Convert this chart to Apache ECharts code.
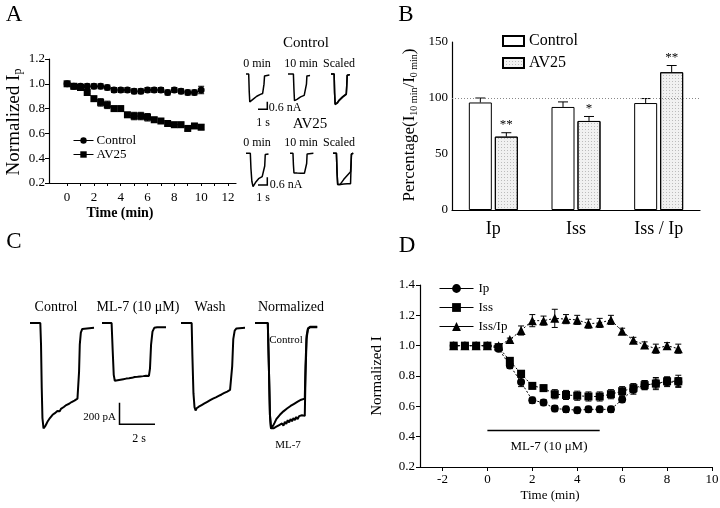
<!DOCTYPE html>
<html>
<head>
<meta charset="utf-8">
<script src="https://cdn.jsdelivr.net/npm/echarts@6/dist/echarts.min.js"></script>
</head>
<body style="margin:0">
<div id="main" style="width:720px;height:508px"></div>
<script type="text/javascript">
// ---- panel A: time course ----
var timeA = [0, 0.5, 1, 1.5, 2, 2.5, 3, 3.5, 4, 4.5, 5, 5.5, 6, 6.5, 7, 7.5, 8, 8.5, 9, 9.5, 10];
var ctrlA = [1.00, 0.98, 0.98, 0.98, 0.98, 0.98, 0.97, 0.95, 0.95, 0.95, 0.94, 0.94, 0.95, 0.95, 0.95, 0.93, 0.95, 0.94, 0.93, 0.93, 0.95];
var ctrlErrA = [0.01, 0.02, 0.02, 0.02, 0.02, 0.02, 0.02, 0.02, 0.02, 0.02, 0.02, 0.02, 0.02, 0.02, 0.02, 0.02, 0.02, 0.02, 0.02, 0.02, 0.03];
var av25A = [1.00, 0.98, 0.97, 0.93, 0.88, 0.85, 0.83, 0.80, 0.80, 0.75, 0.74, 0.74, 0.73, 0.71, 0.70, 0.68, 0.67, 0.67, 0.64, 0.66, 0.65];
var av25ErrA = [0.01, 0.02, 0.02, 0.01, 0.02, 0.03, 0.03, 0.02, 0.02, 0.02, 0.03, 0.03, 0.03, 0.02, 0.02, 0.02, 0.02, 0.02, 0.02, 0.02, 0.02];
var xTicksA = [0, 2, 4, 6, 8, 10, 12];

// panel A small traces (s, nA)
var ctrl0 = [[0,0],[0.3,0],[0.36,-1.4],[0.42,-2.2],[0.48,-2.3],[0.6,-2.15],[0.8,-1.98],[1.0,-1.85],[1.2,-1.75],[1.4,-1.66],[1.6,-1.6],[1.85,-1.53],[1.95,-1.5],[2.0,-0.8],[2.06,-0.15],[2.15,-0.08],[2.6,-0.08]];
var ctrl10 = [[0,0],[0.6,0],[0.66,-1.2],[0.72,-2.1],[0.8,-2.2],[1.0,-2.0],[1.2,-1.88],[1.4,-1.8],[1.6,-1.73],[1.8,-1.68],[2.0,-1.63],[2.05,-0.8],[2.1,-0.15],[2.2,-0.12],[2.45,-0.12]];
var ctrlScaled1 = [[0,0],[0.35,0],[0.4,-1.5],[0.46,-2.4],[0.52,-2.5],[0.7,-2.3],[0.9,-2.1],[1.1,-1.95],[1.3,-1.82],[1.5,-1.7],[1.7,-1.6],[1.75,-0.9],[1.8,-0.1],[1.9,-0.05],[2.1,-0.05]];
var ctrlScaled2 = [[0,0],[0.35,0],[0.4,-1.5],[0.46,-2.35],[0.52,-2.45],[0.7,-2.25],[0.9,-2.05],[1.1,-1.9],[1.3,-1.78],[1.5,-1.66],[1.7,-1.56],[1.75,-0.9],[1.8,-0.1],[1.9,-0.05],[2.1,-0.05]];
var av0 = [[0,0],[0.48,0],[0.55,-1.2],[0.65,-2.2],[0.78,-2.63],[0.9,-2.5],[1.05,-2.3],[1.2,-2.15],[1.4,-2.0],[1.6,-1.9],[1.8,-1.83],[2.0,-1.78],[2.08,-1.0],[2.14,-0.1],[2.25,-0.05],[2.5,-0.05]];
var av10 = [[0,0],[0.33,0],[0.38,-0.9],[0.44,-1.55],[0.6,-1.6],[0.8,-1.56],[1.0,-1.6],[1.2,-1.57],[1.4,-1.6],[1.6,-1.58],[1.8,-1.6],[1.85,-0.8],[1.9,-0.05],[2.0,0],[2.6,0]];
var avScaled1 = [[0,0],[0.38,0],[0.45,-1.5],[0.52,-2.45],[0.6,-2.6],[0.8,-2.45],[1.0,-2.25],[1.2,-2.05],[1.4,-1.88],[1.6,-1.72],[1.8,-1.58],[1.95,-1.45],[2.0,-0.8],[2.05,-0.05],[2.25,0]];
var avScaled2 = [[0,0],[0.38,0],[0.45,-1.5],[0.52,-2.45],[0.6,-2.5],[0.8,-2.45],[1.0,-2.5],[1.2,-2.42],[1.4,-2.48],[1.6,-2.4],[1.8,-2.45],[1.95,-2.4],[2.0,-1.2],[2.05,-0.05],[2.25,0]];

// ---- panel B: bars ----
var catsB = ['Ip', 'Iss', 'Iss / Ip'];
var ctrlB = [96, 92, 95.5];
var ctrlErrB = [4, 4.5, 4];
var av25B = [65.5, 79.5, 123];
var av25ErrB = [3.5, 4, 6];
var starsB = ['**', '*', '**'];

// ---- panel C: current traces (s, pA) ----
var traceCtrl = [[0,0],[0.58,0],[0.62,-200],[0.66,-600],[0.7,-880],[0.76,-975],[0.8,-985],[0.86,-955],[0.92,-935],[0.98,-915],[1.05,-905],[1.12,-880],[1.2,-875],[1.27,-850],[1.33,-846],[1.4,-835],[1.47,-840],[1.54,-815],[1.6,-812],[1.67,-818],[1.74,-795],[1.82,-790],[1.9,-778],[1.97,-783],[2.04,-760],[2.12,-758],[2.2,-748],[2.27,-752],[2.34,-732],[2.42,-728],[2.5,-718],[2.58,-712],[2.67,-700],[2.72,-690],[2.76,-450],[2.8,-200],[2.86,-90],[2.94,-55],[3.05,-45],[3.6,-45]];
var traceMl7 = [[0,0],[0.54,0],[0.6,-250],[0.66,-480],[0.72,-535],[0.8,-545],[0.88,-530],[0.96,-540],[1.04,-525],[1.12,-535],[1.2,-520],[1.28,-530],[1.36,-515],[1.44,-528],[1.52,-512],[1.6,-522],[1.68,-508],[1.76,-518],[1.84,-500],[1.92,-512],[2.0,-498],[2.08,-508],[2.16,-495],[2.24,-505],[2.32,-492],[2.4,-500],[2.48,-488],[2.56,-498],[2.64,-490],[2.7,-420],[2.76,-200],[2.84,-80],[2.94,-45],[3.1,-40],[3.6,-40]];
var traceWash = [[0,0],[0.6,0],[0.64,-300],[0.7,-650],[0.76,-780],[0.82,-810],[0.88,-790],[0.94,-805],[1.0,-775],[1.08,-785],[1.16,-760],[1.24,-770],[1.32,-745],[1.4,-755],[1.48,-730],[1.56,-738],[1.64,-715],[1.72,-722],[1.8,-700],[1.88,-708],[1.96,-688],[2.04,-695],[2.12,-675],[2.2,-682],[2.28,-662],[2.36,-668],[2.44,-648],[2.52,-655],[2.6,-635],[2.68,-640],[2.76,-620],[2.84,-610],[2.88,-400],[2.94,-150],[3.02,-70],[3.12,-50],[3.6,-45]];
var normCtrl = [[0,0],[0.72,0],[0.78,-400],[0.84,-850],[0.9,-975],[0.96,-985],[1.02,-950],[1.1,-925],[1.2,-890],[1.3,-875],[1.4,-850],[1.5,-840],[1.6,-818],[1.7,-810],[1.8,-792],[1.9,-785],[2.0,-768],[2.1,-765],[2.2,-748],[2.3,-745],[2.4,-728],[2.5,-725],[2.6,-710],[2.7,-706],[2.8,-700],[2.84,-400],[2.9,-120],[2.98,-50],[3.1,-35],[3.5,-35]];
var normMl7 = [[0,0],[0.72,0],[0.78,-400],[0.84,-850],[0.9,-975],[0.96,-990],[1.04,-975],[1.12,-990],[1.2,-960],[1.28,-975],[1.36,-945],[1.44,-960],[1.52,-930],[1.6,-950],[1.68,-915],[1.76,-935],[1.84,-900],[1.92,-920],[2.0,-890],[2.08,-910],[2.16,-880],[2.24,-900],[2.32,-870],[2.4,-890],[2.48,-862],[2.56,-880],[2.64,-855],[2.72,-870],[2.8,-860],[2.84,-500],[2.9,-150],[2.98,-55],[3.1,-40],[3.5,-40]];

// ---- panel D: time course ----
var timeD = [-1.5, -1, -0.5, 0, 0.5, 1, 1.5, 2, 2.5, 3, 3.5, 4, 4.5, 5, 5.5, 6, 6.5, 7, 7.5, 8, 8.5];
var ipD = [1.00, 1.00, 1.00, 1.00, 0.98, 0.87, 0.76, 0.64, 0.625, 0.585, 0.58, 0.575, 0.58, 0.58, 0.58, 0.645, 0.71, 0.74, 0.75, 0.76, 0.76];
var ipErrD = [0.01, 0.02, 0.01, 0.01, 0.015, 0.02, 0.03, 0.02, 0.02, 0.02, 0.02, 0.02, 0.02, 0.02, 0.02, 0.02, 0.03, 0.03, 0.03, 0.03, 0.03];
var issD = [1.00, 1.00, 1.00, 1.00, 0.99, 0.90, 0.815, 0.735, 0.72, 0.68, 0.675, 0.67, 0.665, 0.665, 0.68, 0.70, 0.72, 0.74, 0.75, 0.765, 0.765];
var issErrD = [0.01, 0.015, 0.01, 0.01, 0.02, 0.02, 0.02, 0.02, 0.02, 0.03, 0.03, 0.03, 0.03, 0.03, 0.03, 0.03, 0.03, 0.03, 0.04, 0.03, 0.04];
var ratioD = [1.00, 1.00, 1.00, 1.00, 1.00, 1.04, 1.10, 1.165, 1.165, 1.18, 1.175, 1.17, 1.145, 1.15, 1.17, 1.095, 1.035, 1.005, 0.98, 1.00, 0.98];
var ratioErrD = [0.01, 0.01, 0.01, 0.01, 0.01, 0.01, 0.03, 0.04, 0.03, 0.06, 0.03, 0.03, 0.03, 0.03, 0.03, 0.02, 0.02, 0.02, 0.03, 0.02, 0.03];
var xTicksD = [-2, 0, 2, 4, 6, 8, 10];
var ml7Span = [0, 5];
var ml7Level = 0.44;

var serif = 'Liberation Serif';

function zip(xs, ys) {
    return xs.map(function (x, i) { return [x, ys[i]]; });
}

function errBars(axis, xs, ys, es, cap) {
    return {
        type: 'custom', xAxisIndex: axis, yAxisIndex: axis, silent: true, z: 1,
        data: xs.map(function (x, i) { return [x, ys[i], es[i]]; }),
        renderItem: function (params, api) {
            var x = api.value(0), y = api.value(1), e = api.value(2);
            var a = api.coord([x, y + e]), b = api.coord([x, y - e]);
            var st = { stroke: '#000', lineWidth: 1 };
            return { type: 'group', children: [
                { type: 'line', shape: { x1: a[0], y1: a[1], x2: b[0], y2: b[1] }, style: st },
                { type: 'line', shape: { x1: a[0] - cap, y1: a[1], x2: a[0] + cap, y2: a[1] }, style: st },
                { type: 'line', shape: { x1: b[0] - cap, y1: b[1], x2: b[0] + cap, y2: b[1] }, style: st }
            ] };
        }
    };
}

function barErr(vals, errs, offset, stars) {
    return {
        type: 'custom', xAxisIndex: 1, yAxisIndex: 1, silent: true, z: 3,
        data: vals.map(function (v, i) { return [i, v, errs[i]]; }),
        renderItem: function (params, api) {
            var i = api.value(0), v = api.value(1), e = api.value(2);
            var a = api.coord([i, v]), b = api.coord([i, v + e]);
            var x = a[0] + offset;
            var st = { stroke: '#000', lineWidth: 1 };
            var kids = [
                { type: 'line', shape: { x1: x, y1: a[1], x2: x, y2: b[1] }, style: st },
                { type: 'line', shape: { x1: x - 5, y1: b[1], x2: x + 5, y2: b[1] }, style: st }
            ];
            if (stars) {
                kids.push({ type: 'text', x: x, y: b[1] - 8, style: {
                    text: stars[i], fill: '#000', font: '13px ' + serif, align: 'center', verticalAlign: 'middle' } });
            }
            return { type: 'group', children: kids };
        }
    };
}

var grids = [
    { left: 49, top: 59, width: 187, height: 124 },   // A
    { left: 452, top: 42, width: 248, height: 168 },  // B
    { left: 420, top: 285, width: 292, height: 182 }  // D
];
var smallA = [[246, 72.1], [288, 72.1], [331, 72.1], [246, 151.4], [290, 151.4], [333, 151.4]];
smallA.forEach(function (p) { grids.push({ left: p[0], top: p[1], width: 24.3, height: 36.2 }); });
var tracesC = [30, 102, 181, 255];
tracesC.forEach(function (l) { grids.push({ left: l, top: 316.5, width: 64, height: 114.5 }); });
grids.forEach(function (g) { g.outerBoundsMode = 'none'; });

var axisLine = { onZero: false, lineStyle: { color: '#000', width: 1.2 } };
var yLine = { show: true, onZero: false, lineStyle: { color: '#000', width: 1.2 } };
var tick = { lineStyle: { color: '#000' }, length: 4 };

var xAxes = [
    { gridIndex: 0, type: 'value', min: -1.35, max: 12.6, axisLine: axisLine, splitLine: { show: false },
      axisTick: { customValues: [0, 1, 2, 3, 4, 5, 6, 7, 8, 9, 10, 11, 12], length: 3, lineStyle: { color: '#000' } },
      axisLabel: { customValues: xTicksA, color: '#000', fontSize: 13, fontFamily: serif, margin: 8 } },
    { gridIndex: 1, type: 'category', data: catsB, axisLine: axisLine, axisTick: { show: false },
      axisLabel: { color: '#000', fontSize: 18, fontFamily: serif, margin: 10 } },
    { gridIndex: 2, type: 'value', min: -3, max: 10, axisLine: axisLine, splitLine: { show: false },
      axisTick: { customValues: xTicksD, length: 4, lineStyle: { color: '#000' } },
      axisLabel: { customValues: xTicksD, color: '#000', fontSize: 13, fontFamily: serif, margin: 6 } }
];
var yAxes = [
    { gridIndex: 0, type: 'value', min: 0.2, max: 1.2, interval: 0.2, axisLine: yLine,
      axisTick: tick, splitLine: { show: false },
      axisLabel: { color: '#000', fontSize: 13, fontFamily: serif, margin: 4, formatter: function (v) { return v.toFixed(1); } } },
    { gridIndex: 1, type: 'value', min: 0, max: 150, interval: 50, axisLine: yLine,
      axisTick: tick, splitLine: { show: false },
      axisLabel: { color: '#000', fontSize: 13, fontFamily: serif, margin: 4 } },
    { gridIndex: 2, type: 'value', min: 0.2, max: 1.4, interval: 0.2, axisLine: yLine,
      axisTick: tick, splitLine: { show: false },
      axisLabel: { color: '#000', fontSize: 13, fontFamily: serif, margin: 5, formatter: function (v) { return v.toFixed(1); } } }
];
for (var g = 3; g < 9; g++) {
    xAxes.push({ gridIndex: g, type: 'value', min: 0, max: 2.7, show: false });
    yAxes.push({ gridIndex: g, type: 'value', min: -2.7, max: 0.15, show: false });
}
for (var g = 9; g < 13; g++) {
    xAxes.push({ gridIndex: g, type: 'value', min: 0, max: 3.6, show: false });
    yAxes.push({ gridIndex: g, type: 'value', min: -1000, max: 60, show: false });
}

function trace(axis, data, w) {
    return { type: 'line', xAxisIndex: axis, yAxisIndex: axis, data: data, showSymbol: false, silent: true,
             lineStyle: { color: '#000', width: w || 1.5 } };
}

var series = [
    // A
    errBars(0, timeA, ctrlA, ctrlErrA, 3),
    errBars(0, timeA, av25A, av25ErrA, 3),
    { name: 'Control|A', type: 'line', xAxisIndex: 0, yAxisIndex: 0, data: zip(timeA, ctrlA), symbol: 'circle', symbolSize: 7,
      itemStyle: { color: '#000' }, lineStyle: { color: '#000', width: 1, type: [3, 3] }, z: 3 },
    { name: 'AV25|A', type: 'line', xAxisIndex: 0, yAxisIndex: 0, data: zip(timeA, av25A), symbol: 'rect', symbolSize: 7,
      itemStyle: { color: '#000' }, lineStyle: { color: '#000', width: 1, type: [3, 3] }, z: 3 },
    // B
    { name: 'Control|B', type: 'bar', xAxisIndex: 1, yAxisIndex: 1, data: ctrlB, barWidth: 23, barGap: '13%',
      itemStyle: { color: '#fff', borderColor: '#000', borderWidth: 1 },
      markLine: { silent: true, symbol: 'none', label: { show: false },
                  lineStyle: { color: '#888', type: [1, 2], width: 1 }, data: [{ yAxis: 100 }] } },
    { name: 'AV25|B', type: 'bar', xAxisIndex: 1, yAxisIndex: 1, data: av25B, barWidth: 23,
      itemStyle: { color: '#f1f1f1', borderColor: '#000', borderWidth: 1,
                   decal: { symbol: 'rect', symbolSize: 1, dashArrayX: [1, 2], dashArrayY: [1, 2], color: 'rgba(0,0,0,0.22)' } } },
    barErr(ctrlB, ctrlErrB, -13, null),
    barErr(av25B, av25ErrB, 13, starsB),
    // D
    errBars(2, timeD, ratioD, ratioErrD, 3),
    errBars(2, timeD, issD, issErrD, 3),
    errBars(2, timeD, ipD, ipErrD, 3),
    { name: 'Iss/Ip|D', type: 'line', xAxisIndex: 2, yAxisIndex: 2, data: zip(timeD, ratioD), symbol: 'triangle', symbolSize: 9,
      itemStyle: { color: '#000' }, lineStyle: { color: '#000', width: 1, type: [2, 2] }, z: 3 },
    { name: 'Iss|D', type: 'line', xAxisIndex: 2, yAxisIndex: 2, data: zip(timeD, issD), symbol: 'rect', symbolSize: 8,
      itemStyle: { color: '#000' }, lineStyle: { color: '#000', width: 1, type: [2, 2] }, z: 3 },
    { name: 'Ip|D', type: 'line', xAxisIndex: 2, yAxisIndex: 2, data: zip(timeD, ipD), symbol: 'circle', symbolSize: 8,
      itemStyle: { color: '#000' }, lineStyle: { color: '#000', width: 1, type: [2, 2] }, z: 4 },
    { type: 'line', xAxisIndex: 2, yAxisIndex: 2, data: ml7Span.map(function (t) { return [t, ml7Level]; }),
      showSymbol: false, silent: true, lineStyle: { color: '#000', width: 1.5 } },
    // A small traces
    trace(3, ctrl0), trace(4, ctrl10), trace(5, ctrlScaled1), trace(5, ctrlScaled2),
    trace(6, av0), trace(7, av10), trace(8, avScaled1), trace(8, avScaled2),
    // C traces
    trace(9, traceCtrl, 2), trace(10, traceMl7, 2), trace(11, traceWash, 2),
    trace(12, normCtrl, 2), trace(12, normMl7, 2)
];

function label(x, y, text, size, extra, rot) {
    var s = { text: text, fill: '#000', font: (size || 13) + 'px ' + serif, align: 'center', verticalAlign: 'middle' };
    if (extra) for (var k in extra) s[k] = extra[k];
    var el = { type: 'text', x: x, y: y, style: s };
    if (rot) el.rotation = Math.PI / 2;
    return el;
}

function scaleBar(pts) {
    return { type: 'polyline', shape: { points: pts }, style: { stroke: '#000', lineWidth: 1.5, fill: null } };
}

var graphic = [
    label(14, 15, 'A', 23), label(406, 15, 'B', 23), label(14, 242, 'C', 23), label(407, 246, 'D', 23),
    // A
    label(14, 122, '', 19, { text: '{a|Normalized I}{s|p}', rich: { a: { font: '19px ' + serif, fill: '#000' }, s: { font: '12px ' + serif, fill: '#000', padding: [8, 0, 0, 0] } } }, true),
    label(120, 213, 'Time (min)', 14, { font: 'bold 14px ' + serif }),
    label(306, 43, 'Control', 15), label(257, 64, '0 min', 12), label(301, 64, '10 min', 12), label(339, 64, 'Scaled', 12),
    label(285, 108, '0.6 nA', 12), label(263, 123, '1 s', 12),
    label(310, 124, 'AV25', 15), label(257, 143, '0 min', 12), label(301, 143, '10 min', 12), label(339, 143, 'Scaled', 12),
    label(286, 185, '0.6 nA', 12), label(263, 198, '1 s', 12),
    scaleBar([[258, 109.3], [267.3, 109.3], [267.3, 101.7]]),
    scaleBar([[258, 185], [267.3, 185], [267.3, 177.3]]),
    // B
    label(410, 125, '', 17, { text: '{a|Percentage(I}{s|10 min}{a|/I}{s|0 min}{a|)}',
        rich: { a: { font: '17px ' + serif, fill: '#000' }, s: { font: '10px ' + serif, fill: '#000', padding: [8, 0, 0, 0] } } }, true),
    // C
    label(56, 307, 'Control', 14), label(138, 307, 'ML-7 (10 \u03bcM)', 14), label(210, 307, 'Wash', 14), label(291, 307, 'Normalized', 14),
    label(286, 340, 'Control', 11), label(288, 445, 'ML-7', 11),
    label(116, 417, '200 pA', 11, { align: 'right' }), label(139, 439, '2 s', 12),
    scaleBar([[119.5, 402.7], [119.5, 424.3], [155, 424.3]]),
    // D
    label(377, 376, 'Normalized I', 15, null, true), label(549, 447, 'ML-7 (10 \u03bcM)', 13), label(550, 496, 'Time (min)', 13)
];

var legends = [
    { data: ['Control|A', 'AV25|A'], orient: 'vertical', left: 68, top: 129, itemGap: 1, itemWidth: 20, itemHeight: 8,
      textStyle: { fontSize: 13, fontFamily: serif, color: '#000', padding: [0, 0, 0, -2] }, selectedMode: false,
      lineStyle: { type: 'solid', width: 1 },
      formatter: function (n) { return n.split('|')[0]; } },
    { data: ['Control|B', 'AV25|B'], orient: 'vertical', left: 497, top: 28, itemGap: 6, itemWidth: 21, itemHeight: 10, icon: 'rect',
      textStyle: { fontSize: 16, fontFamily: serif, color: '#000' }, selectedMode: false,
      formatter: function (n) { return n.split('|')[0]; } },
    { data: ['Ip|D', 'Iss|D', 'Iss/Ip|D'], orient: 'vertical', left: 434, top: 277, itemGap: 6, itemWidth: 34, itemHeight: 11,
      lineStyle: { type: 'solid', width: 1 },
      textStyle: { fontSize: 13, fontFamily: serif, color: '#000' }, selectedMode: false,
      formatter: function (n) { return n.split('|')[0]; } }
];

var myChart = echarts.init(document.getElementById('main'));
myChart.setOption({
    animation: false,
    backgroundColor: '#fff',
    textStyle: { fontFamily: serif, color: '#000' },
    grid: grids,
    xAxis: xAxes,
    yAxis: yAxes,
    legend: legends,
    series: series,
    graphic: graphic
});
</script>
</body>
</html>
